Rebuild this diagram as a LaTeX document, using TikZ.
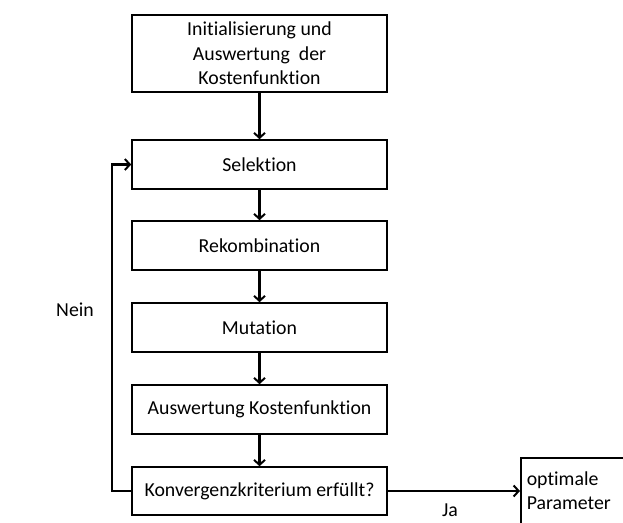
\documentclass[tikz,border=0pt]{standalone}
\usepackage{fontspec}
\setmainfont[RawFeature={-liga;-clig;-dlig}]{Carlito}
\usetikzlibrary{arrows.meta}
\begin{document}
\begin{tikzpicture}[x=1pt,y=-1pt,
  font=\fontsize{19.8}{24.5}\selectfont,
  stepbox/.style={draw, line width=1.6pt, minimum width=255pt, minimum height=49pt, inner sep=0pt, align=center},
  conn/.style={line width=2.2pt, -{Straight Barb[length=5pt,width=11pt,line width=2pt]}},
  lbl/.style={inner sep=0pt}]
\path[use as bounding box, clip] (0,0) rectangle (623,522);
\node[stepbox, minimum height=77pt] (init) at (259.5,53.5) {Initialisierung und\\Auswertung\ \ der\\Kostenfunktion};
\node[stepbox] (sel) at (259.5,164.5) {Selektion};
\node[stepbox] (rek) at (259.5,245.5) {Rekombination};
\node[stepbox] (mut) at (259.5,327.5) {Mutation};
\node[stepbox] (ausw) at (259.5,409.5) {Auswertung Kostenfunktion};
\node[stepbox, minimum height=48pt] (konv) at (259.5,491) {Konvergenzkriterium erfüllt?};
\node[draw, line width=1.6pt, anchor=north west, minimum width=130pt, minimum height=66pt, text width=118pt, inner sep=0pt, inner xsep=6pt, align=left] (opt) at (520,457) {optimale\\Parameter};
\coordinate (lb) at (112,491);
\coordinate (lt) at (112,164.5);
\draw[conn] (init) -- (sel);
\draw[conn] (sel) -- (rek);
\draw[conn] (rek) -- (mut);
\draw[conn] (mut) -- (ausw);
\draw[conn] (ausw) -- (konv);
\draw[conn] (konv.west) -- (lb) -- (lt) -- (sel.west);
\draw[conn] (konv.east) -- (opt.west |- konv.east);
\node[lbl] (nein) at (75,310) {Nein};
\node[lbl] (ja) at (450,510) {Ja};
\end{tikzpicture}
\end{document}
